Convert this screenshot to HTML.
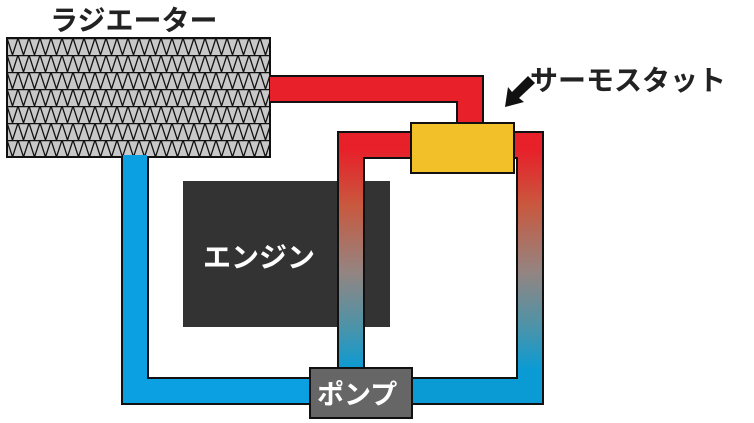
<!DOCTYPE html>
<html><head><meta charset="utf-8"><style>
html,body{margin:0;padding:0;background:#fff;}
svg{display:block}
text{font-family:"Liberation Sans","Noto Sans CJK JP",sans-serif;font-weight:bold}
</style></head><body>
<svg width="754" height="423" viewBox="0 0 754 423" xmlns="http://www.w3.org/2000/svg">
<defs>
<pattern id="tri" x="7" y="38" width="11" height="17" patternUnits="userSpaceOnUse">
<rect width="11" height="17" fill="#c8c8c8"/>
<path d="M0,0 L5.5,17 L11,0" fill="none" stroke="#111" stroke-width="1.3"/>
<line x1="0" y1="0" x2="11" y2="0" stroke="#111" stroke-width="2.5"/>
</pattern>
<linearGradient id="g" gradientUnits="userSpaceOnUse" x1="0" y1="150" x2="0" y2="370">
<stop offset="0" stop-color="#e8202a"/>
<stop offset="0.25" stop-color="#c9583e"/>
<stop offset="0.55" stop-color="#958480"/>
<stop offset="0.8" stop-color="#4d93a8"/>
<stop offset="1" stop-color="#0a9bd4"/>
</linearGradient>
</defs>
<text x="50" y="30" font-size="28" fill="#222">ラジエーター</text>
<text x="530" y="90" font-size="28" fill="#222">サーモスタット</text>
<polygon points="505,107 524,102 519,98 535,83 528,76 512,92 508,87" fill="#111"/>
<rect x="7" y="38" width="263" height="119" fill="url(#tri)" stroke="#111" stroke-width="2"/>
<rect x="183" y="181" width="207" height="146" fill="#333"/>
<text x="203" y="267" font-size="28" fill="#fff">エンジン</text>
<g fill="none" stroke="#111" stroke-width="28" stroke-linejoin="miter">
<path d="M270,89 H470 V123"/>
<path d="M135,157 V391 H310"/>
<path d="M351,368 V145 H411"/>
<path d="M514,145 H530 V391 H412"/>
</g>
<g fill="none" stroke-width="24" stroke-linejoin="miter">
<path d="M270,89 H470 V125" stroke="#e8202a"/>
<path d="M135,155 V391 H312" stroke="#0aa0e2"/>
<path d="M351,370 V145 H413" stroke="url(#g)"/>
<path d="M512,145 H530 V391 H410" stroke="url(#g)"/>
</g>
<rect x="411" y="123" width="103" height="50" fill="#f2c12a" stroke="#111" stroke-width="2"/>
<rect x="310" y="368" width="102" height="50" fill="#666" stroke="#111" stroke-width="2"/>
<text x="317" y="404" font-size="27" fill="#fff">ポンプ</text>
</svg>
</body></html>
